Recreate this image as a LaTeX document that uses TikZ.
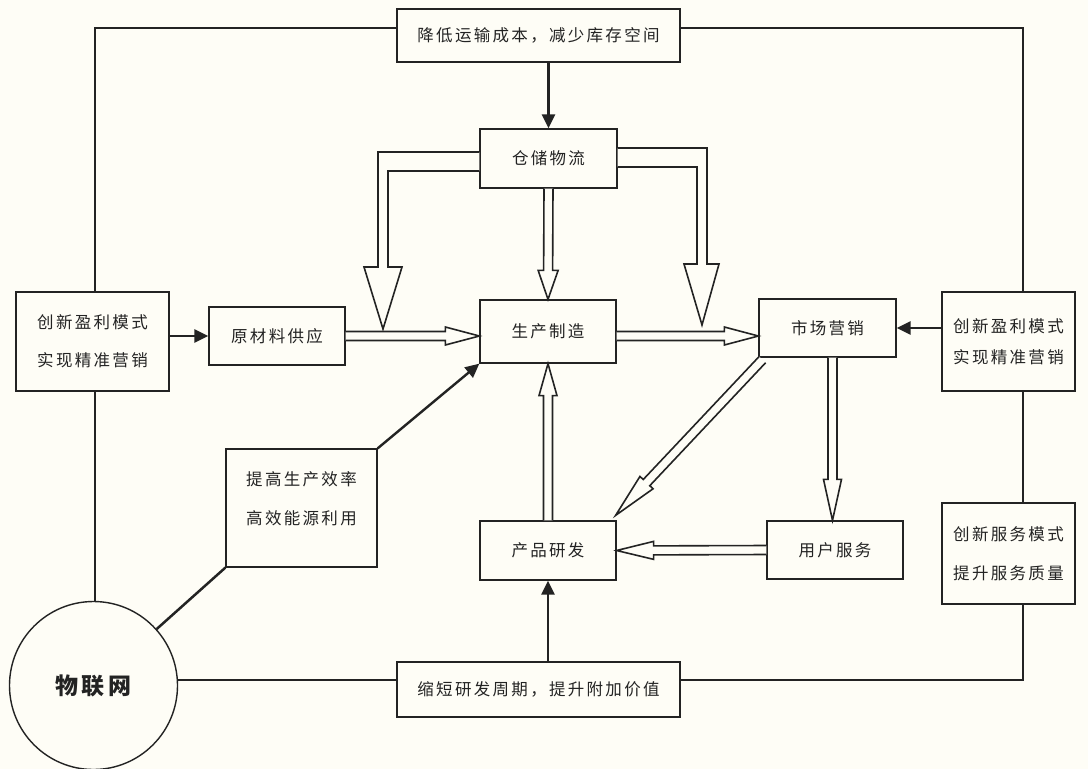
\documentclass[tikz,border=0pt]{standalone}
\usepackage{fontspec}
\usetikzlibrary{arrows.meta,calc}
\newfontfamily\cjk[LetterSpace=14]{Noto Sans CJK SC}
\definecolor{bg}{RGB}{254,253,246}
\definecolor{ink}{RGB}{35,35,35}
\tikzset{
 box/.style={draw=ink, line width=1.3pt, fill=bg, inner sep=0pt, text=ink,
   font=\cjk\fontsize{16.5}{20}\selectfont, align=center},
 frame/.style={draw=ink, line width=1.3pt},
 solidarrow/.style={draw=ink, line width=2.4pt, -{Triangle[length=14pt,width=13pt]}},
 harrow/.style={draw=ink, line width=1.6pt, fill=bg, line join=miter},
}
\newcommand\hollowarrow[5]{%
  \path (#1) coordinate (ha-s) (#2) coordinate (ha-e);
  \path ($(ha-e)!#4!(ha-s)$) coordinate (ha-b);
  \draw[harrow] ($(ha-s)!#3!90:(ha-e)$) -- ($(ha-b)!#3!90:(ha-e)$)
     -- ($(ha-b)!#5!90:(ha-e)$) -- (ha-e) -- ($(ha-b)!#5!-90:(ha-e)$)
     -- ($(ha-b)!#3!-90:(ha-e)$) -- ($(ha-s)!#3!-90:(ha-e)$);
}
\begin{document}
\begin{tikzpicture}[x=1pt,y=-1pt]
\fill[bg] (0,0) rectangle (1088,769);
\useasboundingbox (0,0) rectangle (1088,769);

% nodes
\node[box, minimum width=283pt, minimum height=53pt] (top) at (538.5,35.5) {降低运输成本，减少库存空间};
\node[box, minimum width=137pt, minimum height=59pt] (ware) at (548.5,158.5) {仓储物流};
\node[box, minimum width=136pt, minimum height=63pt] (prod) at (548,331.5) {生产制造};
\node[box, minimum width=136pt, minimum height=58pt] (raw) at (277,336) {原材料供应};
\node[box, minimum width=137pt, minimum height=58pt] (mkt) at (827.5,328) {市场营销};
\node[box, minimum width=136pt, minimum height=59pt] (rd) at (548,550.5) {产品研发};
\node[box, minimum width=136pt, minimum height=58pt] (svc) at (835,550) {用户服务};
\node[box, minimum width=151pt, minimum height=118pt,
  label={[text=ink, font=\cjk\fontsize{16.5}{39}\selectfont, align=center, yshift=9.5pt]center:{提高生产效率\\高效能源利用}}] (eff) at (301.5,508) {};
\node[box, minimum width=153pt, minimum height=99pt, font=\cjk\fontsize{16.5}{38}\selectfont] (lcre) at (92.5,341.5) {创新盈利模式\\实现精准营销};
\node[box, minimum width=133pt, minimum height=99pt, font=\cjk\fontsize{16.5}{31}\selectfont] (rcre) at (1008.5,341.5) {创新盈利模式\\实现精准营销};
\node[box, minimum width=133pt, minimum height=101pt, font=\cjk\fontsize{16.5}{39}\selectfont] (rsvc) at (1008.5,553.5) {创新服务模式\\提升服务质量};
\node[box, minimum width=283pt, minimum height=55pt] (bot) at (538.5,689.5) {缩短研发周期，提升附加价值};
\node[draw=ink, line width=1.4pt, circle, fill=bg, minimum size=168pt, inner sep=0pt, text=ink,
  font=\cjk\bfseries\fontsize{23}{26}\selectfont] (iot) at (93.5,685.5) {物联网};

% outer frame
\coordinate (fl) at (95,28);
\coordinate (fr) at (1023,28);
\coordinate (fbr) at (1023,680);
\draw[frame] (top.west |- fl) -- (fl) -- (fl |- lcre.north);
\draw[frame] (fl |- lcre.south) -- (fl |- iot.north);
\draw[frame] (top.east |- fr) -- (fr) -- (fr |- rcre.north);
\draw[frame] (fr |- rcre.south) -- (fr |- rsvc.north);
\draw[frame] (fr |- rsvc.south) -- (fbr) -- (bot.east |- fbr);
\draw[frame] (bot.west |- fbr) -- (iot.east |- fbr);

% solid arrows
\draw[solidarrow] (ware.north |- top.south) -- (ware.north);
\draw[solidarrow] (rd.south |- bot.north) -- (rd.south);
\draw[solidarrow] (lcre.east |- raw.west) -- (raw.west);
\draw[solidarrow] (rcre.west |- mkt.east) -- (mkt.east);
\draw[solidarrow] (eff.north east) -- (prod.south west);
\draw[draw=ink, line width=2.5pt] (iot) -- (eff.south west);

% hollow arrows
\hollowarrow{raw.east}{prod.west |- raw.east}{4.5pt}{34pt}{9pt}
\hollowarrow{prod.east |- raw.east}{mkt.west |- raw.east}{4.5pt}{34pt}{9pt}
\hollowarrow{ware.south}{prod.north}{4.5pt}{29pt}{10pt}
\hollowarrow{rd.north}{prod.south}{4.5pt}{32pt}{9pt}
\coordinate (m1) at ($(mkt.south)+(5,0)$);
\hollowarrow{m1}{m1 |- svc.north}{4.5pt}{41pt}{9pt}
\hollowarrow{svc.west}{rd.east}{4.5pt}{37pt}{9pt}
\coordinate (d1) at ($(mkt.south west)+(4,2)$);
\coordinate (d2) at ($(rd.north east)+(-1,-5)$);
\hollowarrow{d1}{d2}{4.5pt}{45pt}{9pt}

% bent hollow arrows from warehouse
\draw[harrow] ($(ware.west)+(0,-6.5)$) -- (378,152) -- (378,267) -- (364,267) -- (383,329)
   -- (402,267) -- (388,267) -- (388,171) -- ($(ware.west)+(0,12.5)$);
\draw[harrow] ($(ware.east)+(0,-10.5)$) -- (707,148) -- (707,264) -- (719,264) -- (702,325)
   -- (684,264) -- (697,264) -- (697,167) -- ($(ware.east)+(0,8.5)$);
\end{tikzpicture}
\end{document}
